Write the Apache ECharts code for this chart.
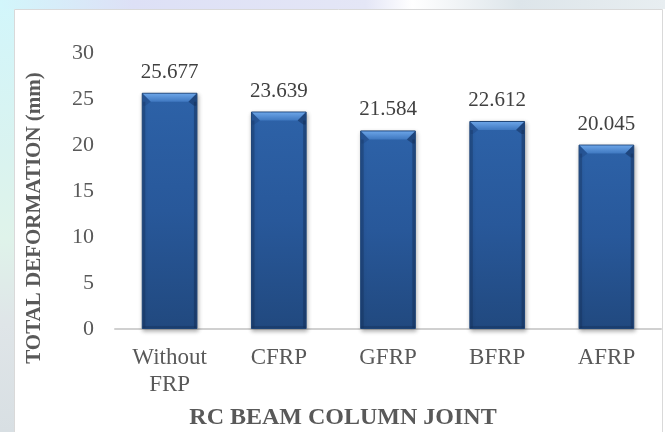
<!DOCTYPE html>
<html>
<head>
<meta charset="utf-8">
<script src="https://cdn.jsdelivr.net/npm/echarts@6/dist/echarts.min.js"></script>
<style>html,body{margin:0;padding:0;background:#fff}#c{width:665px;height:432px}</style>
</head>
<body>
<div id="c"></div>
<script>
const categories = ['Without\nFRP', 'CFRP', 'GFRP', 'BFRP', 'AFRP'];
const values = [25.677, 23.639, 21.584, 22.612, 20.045];
const yTicks = [0, 5, 10, 15, 20, 25, 30];
const xTitle = 'RC BEAM COLUMN JOINT';
const yTitle = 'TOTAL DEFORMATION (mm)';

const FONT = '"Liberation Serif", "Times New Roman", serif';
const chart = echarts.init(document.getElementById('c'), null, {renderer: 'canvas'});
const BAR_RATIO = 0.51;

chart.setOption({
  backgroundColor: '#fff',
  animation: false,
  graphic: [
    {type: 'rect', z: -10, shape: {x: 0, y: 0, width: 14, height: 432},
      style: {fill: new echarts.graphic.LinearGradient(0, 0, 0, 1, [
        {offset: 0, color: '#d2f6fb'}, {offset: 0.35, color: '#d9f3f0'},
        {offset: 0.55, color: '#dff3ea'}, {offset: 0.75, color: '#dfe5e8'}, {offset: 1, color: '#d8dfe3'}])}},
    {type: 'rect', z: -10, shape: {x: 0, y: 0, width: 665, height: 9},
      style: {fill: new echarts.graphic.LinearGradient(0, 0, 1, 0, [
        {offset: 0, color: '#d2f6fb'}, {offset: 0.2, color: '#dde0f6'}, {offset: 0.55, color: '#e4e6f6'},
        {offset: 0.62, color: '#ffffff'}, {offset: 0.78, color: '#dde5ea'}, {offset: 1, color: '#e8eef1'}])}},
    {type: 'rect', z: -5, shape: {x: 14.5, y: 9.5, width: 648, height: 440},
      style: {fill: '#fff', stroke: '#d9d9d9', lineWidth: 1}},
    {type: 'text', x: 343, y: 418, z: 10,
      style: {text: xTitle, font: 'bold 24px ' + FONT, fill: '#595959', align: 'center', verticalAlign: 'middle'}},
    {type: 'text', x: 35, y: 218, rotation: Math.PI / 2, z: 10,
      style: {text: yTitle, font: 'bold 21px ' + FONT, fill: '#595959', align: 'center', verticalAlign: 'middle'}}
  ],
  grid: {left: 115, right: 4, top: 53, bottom: 103, containLabel: false},
  xAxis: {
    type: 'category', data: categories,
    axisLine: {show: true, lineStyle: {color: '#d0d0d0', width: 2}},
    axisTick: {show: false},
    axisLabel: {color: '#595959', fontFamily: FONT, fontSize: 23, lineHeight: 27, margin: 15, interval: 0}
  },
  yAxis: {
    type: 'value', min: yTicks[0], max: yTicks[yTicks.length - 1], interval: 5,
    splitLine: {show: false}, axisLine: {show: false}, axisTick: {show: false},
    axisLabel: {color: '#595959', fontFamily: FONT, fontSize: 22, margin: 21}
  },
  series: [
    {
      type: 'bar', data: values, barWidth: (BAR_RATIO * 100) + '%', z: 2,
      itemStyle: {
        color: new echarts.graphic.LinearGradient(0, 0, 0, 1, [
          {offset: 0, color: '#2d62a8'}, {offset: 0.5, color: '#28589a'}, {offset: 1, color: '#21497f'}]),
        borderColor: '#1f4577', borderWidth: 1,
        shadowColor: 'rgba(0,0,0,0.3)', shadowBlur: 4, shadowOffsetX: 1, shadowOffsetY: 2
      },
      label: {show: true, position: 'top', distance: 10, color: '#404040', fontFamily: FONT, fontSize: 21, lineHeight: 21}
    },
    {
      type: 'custom', z: 3, silent: true,
      data: values.map((v, i) => [i, v]),
      encode: {x: 0, y: 1},
      renderItem: function (params, api) {
        const i = api.value(0), v = api.value(1);
        const top = api.coord([i, v]);
        const base = api.coord([i, 0]);
        const bw = api.size([1, 0])[0] * BAR_RATIO;
        const l = top[0] - bw / 2, r = top[0] + bw / 2, t = top[1], b = base[1];
        const ins = 9, bh = 9;
        return {
          type: 'group',
          children: [
            {type: 'polygon', shape: {points: [[l + 1, t + 1], [r - 1, t + 1], [r - ins, t + bh], [l + ins, t + bh]]},
              style: {fill: new echarts.graphic.LinearGradient(0, 0, 0, 1, [
                {offset: 0, color: '#6aa3e6'}, {offset: 1, color: '#3f78c0'}])}},
            {type: 'polygon', shape: {points: [[l + 1, t + 1], [l + ins, t + bh], [l + 3.5, t + bh + 4], [l + 1, t + bh + 4]]},
              style: {fill: 'rgba(30,70,130,0.45)'}},
            {type: 'polygon', shape: {points: [[r - 1, t + 1], [r - ins, t + bh], [r - 3.5, t + bh + 4], [r - 1, t + bh + 4]]},
              style: {fill: 'rgba(20,50,95,0.55)'}},
            {type: 'rect', shape: {x: l + 1, y: t + bh, width: 2.5, height: b - t - bh - 1},
              style: {fill: 'rgba(20,45,85,0.35)'}},
            {type: 'rect', shape: {x: r - 3.5, y: t + bh, width: 2.5, height: b - t - bh - 1},
              style: {fill: 'rgba(20,45,85,0.45)'}},
            {type: 'rect', shape: {x: l + 1, y: b - 3, width: bw - 2, height: 2},
              style: {fill: 'rgba(20,45,85,0.35)'}}
          ]
        };
      }
    }
  ]
});
</script>
</body>
</html>
